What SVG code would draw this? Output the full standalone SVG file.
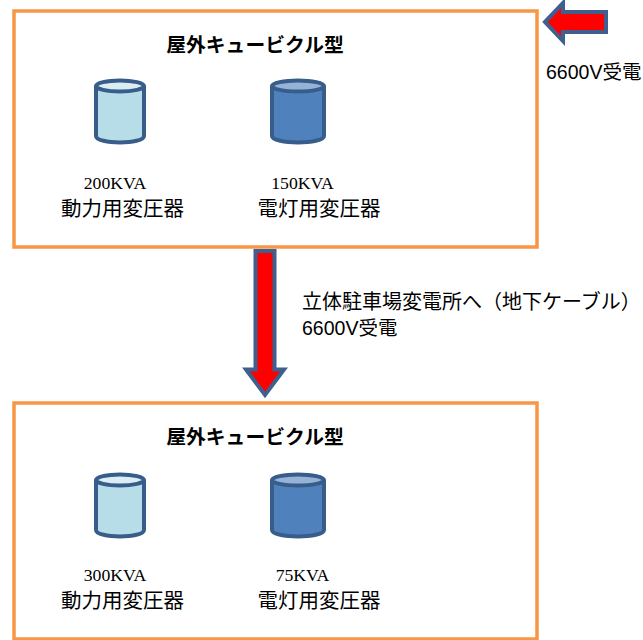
<svg xmlns="http://www.w3.org/2000/svg" width="643" height="640" viewBox="0 0 643 640">
<style>
.box{fill:#fff;stroke:#f79646;stroke-width:3.5}
.cyl{stroke:#385d8a;stroke-width:4}
.arrow{fill:#f00;stroke:#3f5f8f;stroke-width:4}
.light{fill:#b7dde8}.lighttop{fill:#dbeef4}
.dark{fill:#4f81bd}.darktop{fill:#95b3d7}
text{fill:#000;text-anchor:middle}
.jp{font-family:"Noto Sans CJK JP","Noto Sans",sans-serif;font-size:20.500px}
.title{font-family:"Noto Sans CJK JP",sans-serif;font-size:19.800px;font-weight:700}
.kva{font-family:"Liberation Serif","Noto Sans CJK JP",serif;font-size:17.700px}
.lbl{font-family:"Liberation Sans","Noto Sans CJK JP",sans-serif;font-size:19.500px;text-anchor:start}
.long{font-size:20px}
</style>
<defs>
<g id="cylL"><path class="cyl light" d="M96 86V136C96 144.500 144 144.500 144 136V86"/><ellipse class="cyl lighttop" cx="120" cy="86" rx="24" ry="5.500"/></g>
<g id="cylD"><path class="cyl dark" d="M272 86V136C272 144.500 324 144.500 324 136V86"/><ellipse class="cyl darktop" cx="298" cy="86" rx="26" ry="5.500"/></g>
</defs>
<g id="node-top">
<rect class="box" x="14" y="11" width="523" height="236"/>
<text class="title" x="255" y="51.500">屋外キュービクル型</text>
</g>
<g id="node-top-power"><use href="#cylL"/><text class="kva" x="115" y="189">200KVA</text><text class="jp" x="122.500" y="216">動力用変圧器</text></g>
<g id="node-top-light"><use href="#cylD"/><text class="kva" x="302.500" y="189">150KVA</text><text class="jp" x="319" y="216">電灯用変圧器</text></g>
<g id="node-bottom">
<rect class="box" x="14" y="403" width="523" height="236"/>
<text class="title" x="255" y="443.500">屋外キュービクル型</text>
</g>
<g id="node-bottom-power"><use href="#cylL" y="394"/><text class="kva" x="115" y="581">300KVA</text><text class="jp" x="122.500" y="608">動力用変圧器</text></g>
<g id="node-bottom-light"><use href="#cylD" y="394"/><text class="kva" x="302.500" y="581">75KVA</text><text class="jp" x="319" y="608">電灯用変圧器</text></g>
<g id="connectors">
<path class="arrow" d="M545 22L563 3V12H606V32H563V41Z"/>
<path class="arrow" d="M255.500 251H274.500V369.500H284L265 395L246 369.500H255.500Z"/>
</g>
<text class="lbl" x="546" y="79">6600V受電</text>
<text class="lbl long" x="302" y="309">立体駐車場変電所へ（地下ケーブル）</text>
<text class="lbl" x="302" y="335">6600V受電</text>
</svg>
